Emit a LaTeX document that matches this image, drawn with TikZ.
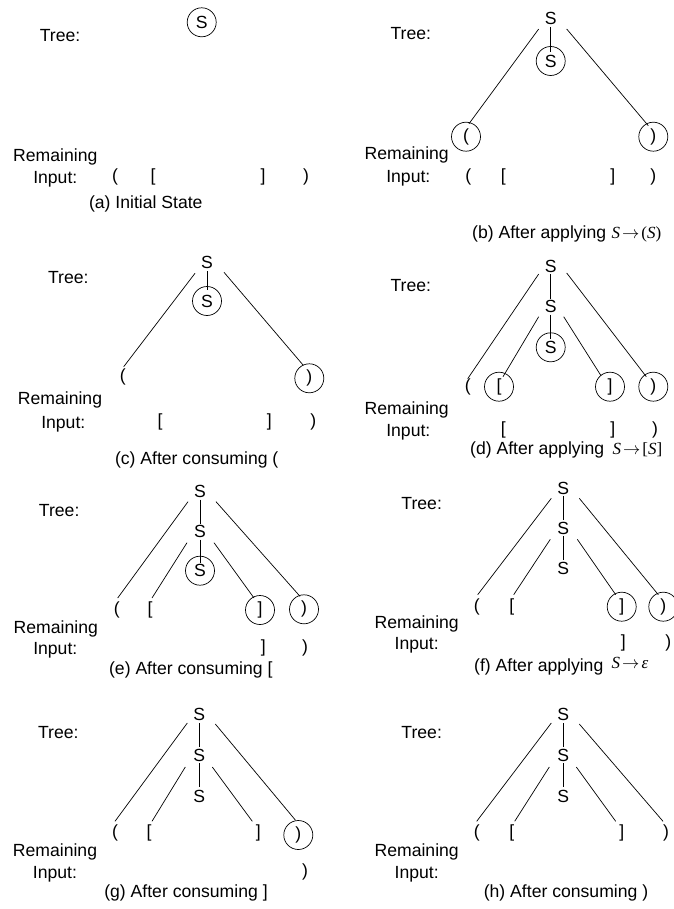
\documentclass[tikz,border=0pt]{standalone}
\usepackage{fontspec}
\setmainfont{Liberation Sans}
\newfontfamily\brfont{Liberation Serif}
\usetikzlibrary{calc}
\tikzset{
  lbl/.style={font=\fontsize{17.6}{20}\selectfont, inner sep=0pt, text height=12.6pt, text depth=0pt},
  sym/.style={font=\fontsize{17.6}{20}\selectfont, inner sep=0pt},
  br/.style={font=\fontsize{17.6}{20}\selectfont, inner sep=0pt},
  capt/.style={font=\fontsize{17.6}{20}\selectfont, inner sep=0pt},
  fml/.style={font=\brfont\fontsize{17}{20}\selectfont, inner sep=0pt},
  ring/.style={draw, circle, minimum size=29pt, line width=0.7pt},
  ln/.style={line width=0.7pt}
}
\newcommand{\arr}{\hspace{2pt}$\rightarrow$\hspace{2pt}}
\begin{document}
\begin{tikzpicture}[x=1pt,y=-1pt]
\useasboundingbox (0,0) rectangle (673,909);

% ---------- (a) ----------
\node[lbl] (a-tree) at (60,35) {Tree:};
\node[sym,ring] (a-r) at (201.7,22.3) {S};
\node[lbl] (a-rem) at (55.3,155) {Remaining};
\node[lbl] (a-inp) at (55.3,177) {Input:};
\node[br] (a-i1) at (115,177) {(};
\node[br] (a-i2) at (153,177) {[};
\node[br] (a-i3) at (263,177) {]};
\node[br] (a-i4) at (306,177) {)};
\node[capt] (a-cap) at (145.8,204) {(a) Initial State};

% ---------- (b) ----------
\node[lbl] (b-tree) at (410.8,33) {Tree:};
\node[sym] (b-r) at (550.7,18) {S};
\node[sym,ring] (b-c) at (550.7,61) {S};
\node[br,ring] (b-l1) at (466,136.7) {(};
\node[br,ring] (b-l4) at (653.3,136.7) {)};
\node[lbl] (b-rem) at (406.7,153) {Remaining};
\node[lbl] (b-inp) at (408.3,176.7) {Input:};
\node[br] (b-i1) at (468.3,176.7) {(};
\node[br] (b-i2) at (503.3,176.7) {[};
\node[br] (b-i3) at (612.7,176.7) {]};
\node[br] (b-i4) at (653.3,176.7) {)};
\node[capt,anchor=west] (b-cap) at (472,234) {(b) After applying};
\node[fml,anchor=west] (b-f) at ($(b-cap.east)+(5,0)$) {{\itshape S}\arr(\textit{S})};
\draw[ln] ($(b-r)+(0,9)$) -- ($(b-c)+(0,-9)$);
\draw[ln] ($(b-r)+(-12,11)$) -- ($(b-l1)+(3,-13)$);
\draw[ln] ($(b-r)+(16,11)$) -- ($(b-l4)+(-5,-11)$);

% ---------- (c) ----------
\node[lbl] (c-tree) at (68.3,276.7) {Tree:};
\node[sym] (c-r) at (207,262.3) {S};
\node[sym,ring] (c-c) at (207,301) {S};
\node[br] (c-l1) at (122.7,376.7) {(};
\node[br,ring] (c-l4) at (309.3,378.3) {)};
\node[lbl] (c-rem) at (60,398.3) {Remaining};
\node[lbl] (c-inp) at (63.3,421.7) {Input:};
\node[br] (c-i2) at (160,421.7) {[};
\node[br] (c-i3) at (269.3,421.7) {]};
\node[br] (c-i4) at (313.3,421.7) {)};
\node[capt] (c-cap) at (196.7,460) {(c) After consuming (};
\draw[ln] ($(c-r)+(0,9)$) -- ($(c-c)+(0,-11)$);
\draw[ln] ($(c-r)+(-12,11)$) -- ($(c-l1)+(1,-10)$);
\draw[ln] ($(c-r)+(17,10)$) -- ($(c-l4)+(-6,-13)$);

% ---------- (d) ----------
\node[lbl] (d-tree) at (410.8,285) {Tree:};
\node[sym] (d-r) at (550.7,266) {S};
\node[sym] (d-m) at (550.7,306.7) {S};
\node[sym,ring] (d-c) at (550.7,347.3) {S};
\node[br] (d-l1) at (467.7,386.7) {(};
\node[br,ring] (d-l2) at (499,386.7) {[};
\node[br,ring] (d-l3) at (610,386.7) {]};
\node[br,ring] (d-l4) at (653.3,386.7) {)};
\node[lbl] (d-rem) at (406.7,408.3) {Remaining};
\node[lbl] (d-inp) at (408.3,430) {Input:};
\node[br] (d-i2) at (503.3,430) {[};
\node[br] (d-i3) at (612.7,430) {]};
\node[br] (d-i4) at (655,430) {)};
\node[capt,anchor=west] (d-cap) at (470,450) {(d) After applying};
\node[fml,anchor=west] (d-f) at ($(d-cap.east)+(8,0)$) {{\itshape S}\arr[\textit{S}]};
\draw[ln] ($(d-r)+(0,8)$) -- ($(d-m)+(0,-8)$);
\draw[ln] ($(d-m)+(0,8)$) -- ($(d-c)+(0,-8)$);
\draw[ln] ($(d-r)+(-12,8)$) -- ($(d-l1)+(0,-8)$);
\draw[ln] ($(d-r)+(16,7)$) -- ($(d-l4)+(-7,-10)$);
\draw[ln] ($(d-m)+(-12,10)$) -- ($(d-l2)+(4,-10)$);
\draw[ln] ($(d-m)+(13,10)$) -- ($(d-l3)+(-9,-11)$);

% ---------- (e) ----------
\node[lbl] (e-tree) at (59.2,510) {Tree:};
\node[sym] (e-r) at (200,491.7) {S};
\node[sym] (e-m) at (200,531.7) {S};
\node[sym,ring] (e-c) at (200,570.7) {S};
\node[br] (e-l1) at (116.7,610) {(};
\node[br] (e-l2) at (150,610) {[};
\node[br,ring] (e-l3) at (260,610) {]};
\node[br,ring] (e-l4) at (304,609.3) {)};
\node[lbl] (e-rem) at (55.8,626.7) {Remaining};
\node[lbl] (e-inp) at (55.3,648.3) {Input:};
\node[br] (e-i3) at (263.3,648.3) {]};
\node[br] (e-i4) at (305,648.3) {)};
\node[capt] (e-cap) at (190.8,670) {(e) After consuming [};
\draw[ln] ($(e-r)+(0,8)$) -- ($(e-m)+(0,-8)$);
\draw[ln] ($(e-m)+(0,8)$) -- ($(e-c)+(0,-8)$);
\draw[ln] ($(e-r)+(-12,10)$) -- ($(e-l1)+(1,-12)$);
\draw[ln] ($(e-r)+(16,10)$) -- ($(e-l4)+(-4,-13)$);
\draw[ln] ($(e-m)+(-13,11)$) -- ($(e-l2)+(2,-12)$);
\draw[ln] ($(e-m)+(14,11)$) -- ($(e-l3)+(-6,-12)$);

% ---------- (f) ----------
\node[lbl] (f-tree) at (421.7,503.3) {Tree:};
\node[sym] (f-r) at (563.3,488.3) {S};
\node[sym] (f-m) at (563.3,528.3) {S};
\node[sym] (f-c) at (563.3,568.3) {S};
\node[br] (f-l1) at (476.7,606.7) {(};
\node[br] (f-l2) at (511.7,606.7) {[};
\node[br,ring] (f-l3) at (621.7,606.7) {]};
\node[br,ring] (f-l4) at (663.3,606.7) {)};
\node[lbl] (f-rem) at (416.7,621.7) {Remaining};
\node[lbl] (f-inp) at (416.7,643.3) {Input:};
\node[br] (f-i3) at (623.3,643.3) {]};
\node[br] (f-i4) at (668.3,643.3) {)};
\node[capt,anchor=west] (f-cap) at (474,667) {(f) After applying};
\node[fml,anchor=west] (f-f) at ($(f-cap.east)+(8,-4)$) {{\itshape S}\arr{\itshape ε}};
\draw[ln] ($(f-r)+(0,8)$) -- ($(f-m)+(0,-8)$);
\draw[ln] ($(f-m)+(0,8)$) -- ($(f-c)+(0,-8)$);
\draw[ln] ($(f-r)+(-12,10)$) -- ($(f-l1)+(1,-12)$);
\draw[ln] ($(f-r)+(16,10)$) -- ($(f-l4)+(-5,-12)$);
\draw[ln] ($(f-m)+(-13,11)$) -- ($(f-l2)+(2,-12)$);
\draw[ln] ($(f-m)+(14,11)$) -- ($(f-l3)+(-6,-12)$);

% ---------- (g) ----------
\node[lbl] (g-tree) at (58.3,731.7) {Tree:};
\node[sym] (g-r) at (199.3,714) {S};
\node[sym] (g-m) at (199.3,755) {S};
\node[sym] (g-c) at (199.3,796) {S};
\node[br] (g-l1) at (115,833.3) {(};
\node[br] (g-l2) at (149,833.3) {[};
\node[br] (g-l3) at (258.3,833.3) {]};
\node[br,ring] (g-l4) at (298.3,835) {)};
\node[lbl] (g-rem) at (55,850) {Remaining};
\node[lbl] (g-inp) at (55,871.7) {Input:};
\node[br] (g-i4) at (305,871.7) {)};
\node[capt] (g-cap) at (186,893) {(g) After consuming ]};
\draw[ln] ($(g-r)+(0,9)$) -- ($(g-m)+(0,-8)$);
\draw[ln] ($(g-m)+(0,8)$) -- ($(g-c)+(0,-9)$);
\draw[ln] ($(g-r)+(-12,9)$) -- ($(g-l1)+(0,-12)$);
\draw[ln] ($(g-r)+(16,10)$) -- ($(g-l4)+(-3,-15)$);
\draw[ln] ($(g-m)+(-14,12)$) -- ($(g-l2)+(3,-12)$);
\draw[ln] ($(g-m)+(13,12)$) -- ($(g-l3)+(-6,-12)$);

% ---------- (h) ----------
\node[lbl] (h-tree) at (421.7,731.7) {Tree:};
\node[sym] (h-r) at (563.3,714) {S};
\node[sym] (h-m) at (563.3,755) {S};
\node[sym] (h-c) at (563.3,796) {S};
\node[br] (h-l1) at (476.7,833.3) {(};
\node[br] (h-l2) at (511.7,833.3) {[};
\node[br] (h-l3) at (621.7,833.3) {]};
\node[br] (h-l4) at (666,833.3) {)};
\node[lbl] (h-rem) at (416.7,850) {Remaining};
\node[lbl] (h-inp) at (416.7,871.7) {Input:};
\node[capt] (h-cap) at (566,893) {(h) After consuming )};
\draw[ln] ($(h-r)+(0,9)$) -- ($(h-m)+(0,-8)$);
\draw[ln] ($(h-m)+(0,8)$) -- ($(h-c)+(0,-9)$);
\draw[ln] ($(h-r)+(-12,9)$) -- ($(h-l1)+(0,-12)$);
\draw[ln] ($(h-r)+(16,10)$) -- ($(h-l4)+(-3,-12)$);
\draw[ln] ($(h-m)+(-14,12)$) -- ($(h-l2)+(3,-12)$);
\draw[ln] ($(h-m)+(13,12)$) -- ($(h-l3)+(-6,-12)$);
\end{tikzpicture}
\end{document}
